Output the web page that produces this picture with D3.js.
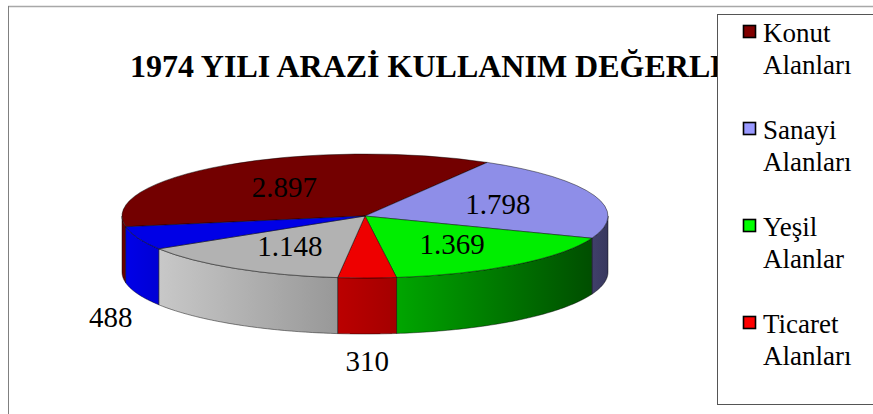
<!DOCTYPE html>
<html>
<head>
<meta charset="utf-8">
<script src="https://cdn.jsdelivr.net/npm/d3@7"></script>
<style>
  body { margin: 0; background: #fff; }
  svg text { font-family: "Liberation Serif", "DejaVu Serif", "Times New Roman", serif; }
</style>
</head>
<body>
<div id="chart"></div>
<script>

var categories = ["Konut Alanları", "Sanayi Alanları", "Yeşil Alanlar", "Ticaret Alanları", "Diğer Alanlar", "Boş Alanlar"];
var values = [2897, 1798, 1369, 310, 1148, 488];
var legendCount = 4; // only first four fit in the legend box

var topColors  = ["#730000", "#8e8ee8", "#00ee00", "#ee0000", "#b2b2b2", "#0000e6"];
var sideLight  = ["#6c0000", "#40406a", "#00a600", "#bb0000", "#c8c8c8", "#0000e8"];
var sideDark   = ["#600000", "#38385e", "#004e00", "#a40000", "#989898", "#0000d4"];
var legendColors = ["#800000", "#9999ff", "#00ff00", "#ff0000"];

var serif = "'Liberation Serif', 'DejaVu Serif', serif";
var width = 873, height = 414;
var cx = 365, cy = 216, rx = 243, ry = 62, depth = 56;
var startDeg = -100;

var trFormat = d3.formatLocale({decimal: ",", thousands: ".", grouping: [3], currency: ["", ""]}).format(",");

var svg = d3.select("#chart").append("svg")
  .attr("width", width)
  .attr("height", height)
  .attr("font-family", serif);

var defs = svg.append("defs");

// outer frame (only top and left edges visible)
svg.append("line").attr("x1", 8).attr("x2", width).attr("y1", 6.5).attr("y2", 6.5)
  .attr("stroke", "#a8a8a8").attr("stroke-width", 1.6);
svg.append("line").attr("x1", 8.5).attr("x2", 8.5).attr("y1", 6).attr("y2", height)
  .attr("stroke", "#808080").attr("stroke-width", 1);

// title is cut off by the legend box, as in the original
defs.append("clipPath").attr("id", "titleClip")
  .append("rect").attr("x", 9).attr("y", 7).attr("width", 708).attr("height", 100);

svg.append("text")
  .attr("clip-path", "url(#titleClip)")
  .attr("x", 130).attr("y", 77)
  .attr("font-family", serif)
  .attr("font-size", 32).attr("font-weight", "bold")
  .text("1974 YILI ARAZİ KULLANIM DEĞERLERİ");

var pie = d3.pie().sort(null).value(function(d) { return d; })
  .startAngle(startDeg * Math.PI / 180)
  .endAngle(startDeg * Math.PI / 180 + 2 * Math.PI);
var arcs = pie(values);

function ept(a, dy) {
  return [cx + rx * Math.sin(a), cy - ry * Math.cos(a) + (dy || 0)];
}

arcs.forEach(function(d, i) {
  var g = defs.append("linearGradient").attr("id", "side" + i)
    .attr("x1", 0).attr("x2", 1).attr("y1", 0).attr("y2", 0);
  g.append("stop").attr("offset", 0).attr("stop-color", sideLight[i]);
  g.append("stop").attr("offset", 1).attr("stop-color", sideDark[i]);
});

// side walls: only the front half of the rim is visible
function sidePath(d) {
  var p = d3.path();
  for (var k = -1; k <= 1; k++) {
    var lo = Math.max(d.startAngle, Math.PI / 2 + 2 * Math.PI * k);
    var hi = Math.min(d.endAngle, 3 * Math.PI / 2 + 2 * Math.PI * k);
    if (hi <= lo) continue;
    var n = 60, j, pt;
    pt = ept(lo); p.moveTo(pt[0], pt[1]);
    for (j = 1; j <= n; j++) { pt = ept(lo + (hi - lo) * j / n); p.lineTo(pt[0], pt[1]); }
    for (j = n; j >= 0; j--) { pt = ept(lo + (hi - lo) * j / n, depth); p.lineTo(pt[0], pt[1]); }
    p.closePath();
  }
  return p.toString();
}

svg.append("g").selectAll("path")
  .data(arcs)
  .enter()
  .append("path")
  .attr("d", sidePath)
  .attr("fill", function(d, i) { return "url(#side" + i + ")"; })
  .attr("stroke", "#000")
  .attr("stroke-opacity", 0.5)
  .attr("stroke-width", 0.9);

// top faces
var arc = d3.arc().innerRadius(0).outerRadius(rx);
svg.append("g")
  .attr("transform", "translate(" + cx + "," + cy + ") scale(1," + (ry / rx) + ")")
  .selectAll("path")
  .data(arcs)
  .enter()
  .append("path")
  .attr("d", arc)
  .attr("fill", function(d, i) { return topColors[i]; })
  .attr("stroke", "#000")
  .attr("stroke-opacity", 0.5)
  .attr("stroke-width", 0.9)
  .attr("vector-effect", "non-scaling-stroke");

// value labels
var labelArc = d3.arc().innerRadius(rx * 0.58).outerRadius(rx * 0.58);
svg.append("g").selectAll("text")
  .data(arcs)
  .enter()
  .append("text")
  .attr("x", function(d) {
    if (d.value < 500) return cx + rx * 1.12 * Math.sin((d.startAngle + d.endAngle) / 2);
    return cx + labelArc.centroid(d)[0];
  })
  .attr("y", function(d) {
    if (d.value < 500) return cy + depth + 20 - ry * 1.12 * Math.cos((d.startAngle + d.endAngle) / 2);
    return cy + labelArc.centroid(d)[1] * ry / rx;
  })
  .attr("text-anchor", "middle")
  .attr("dominant-baseline", "central")
  .attr("font-family", serif)
  .attr("font-size", 29)
  .attr("fill", "#000")
  .text(function(d) { return trFormat(d.value); });

// legend
var legend = svg.append("g");
legend.append("rect")
  .attr("x", 717.5).attr("y", 14.5)
  .attr("width", 200).attr("height", 390)
  .attr("fill", "#fff").attr("stroke", "#555").attr("stroke-width", 1);

var items = legend.selectAll("g.item")
  .data(categories.slice(0, legendCount))
  .enter()
  .append("g")
  .attr("class", "item")
  .attr("transform", function(d, i) { return "translate(0," + (i * 97) + ")"; });

items.append("rect")
  .attr("x", 743.5).attr("y", 25.5)
  .attr("width", 12).attr("height", 12)
  .attr("fill", function(d, i) { return legendColors[i]; })
  .attr("stroke", "#000").attr("stroke-width", 1.6);

items.append("text")
  .attr("x", 763).attr("y", 42)
  .attr("font-family", serif)
  .attr("font-size", 27)
  .text(function(d) { return d.split(" ")[0]; });

items.append("text")
  .attr("x", 763).attr("y", 74)
  .attr("font-family", serif)
  .attr("font-size", 27)
  .text(function(d) { return d.split(" ")[1]; });

</script>
</body>
</html>
